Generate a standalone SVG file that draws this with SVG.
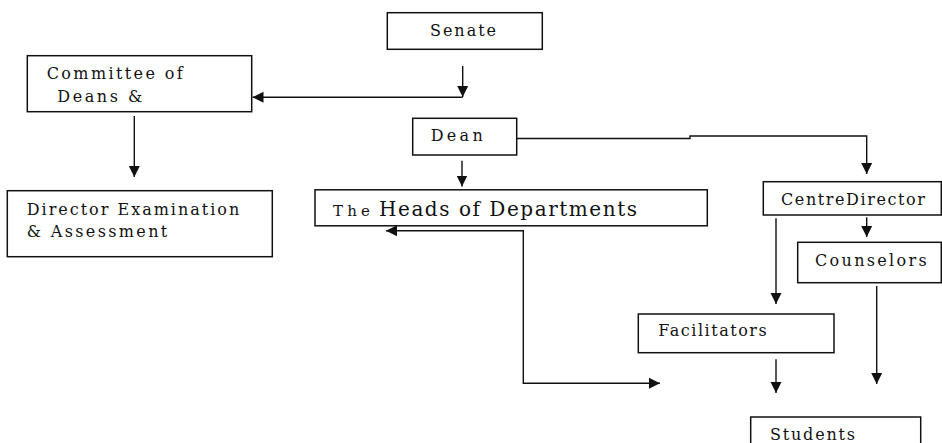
<svg xmlns="http://www.w3.org/2000/svg" width="942" height="443" viewBox="0 0 942 443">
<style>
  .box { fill: #fff; stroke: #111; stroke-width: 1.5; }
  .lbl { font-family: "DejaVu Serif", "Liberation Serif", serif; fill: #111; }
  .conn { fill: none; stroke: #111; stroke-width: 1.4; }
</style>
<defs>
  <marker id="arr" viewBox="0 0 10 10" refX="10" refY="5" markerWidth="11" markerHeight="12" markerUnits="userSpaceOnUse" orient="auto-start-reverse">
    <path d="M0,0 L10,5 L0,10 z" fill="#111"/>
  </marker>
</defs>
<rect width="942" height="443" fill="#fff"/>
<g id="connectors">
  <path class="conn" d="M462.7 66 V97" marker-end="url(#arr)"/>
  <path class="conn" d="M462.7 97.3 H252.5" marker-end="url(#arr)"/>
  <path class="conn" d="M134.3 116 V177" marker-end="url(#arr)"/>
  <path class="conn" d="M462 160.7 V186.5" marker-end="url(#arr)"/>
  <path class="conn" d="M517 138.5 H690 V136 H866.7 V174" marker-end="url(#arr)"/>
  <path class="conn" d="M866.7 217.3 V237" marker-end="url(#arr)"/>
  <path class="conn" d="M776 218.3 V304" marker-end="url(#arr)"/>
  <path class="conn" d="M386 230.7 H523.3 V383.3 H660" marker-start="url(#arr)" marker-end="url(#arr)"/>
  <path class="conn" d="M776 359.3 V393" marker-end="url(#arr)"/>
  <path class="conn" d="M876.7 286 V384" marker-end="url(#arr)"/>
</g>
<g id="senate">
  <rect class="box" x="387.3" y="12.7" width="155" height="36.6"/>
  <text class="lbl" x="430" y="36" font-size="16" textLength="66" lengthAdjust="spacing">Senate</text>
</g>
<g id="committee">
  <rect class="box" x="27.3" y="55.7" width="224.4" height="56"/>
  <text class="lbl" x="46.7" y="79.3" font-size="16" textLength="136" lengthAdjust="spacing">Committee of</text>
  <text class="lbl" x="57.3" y="101.7" font-size="16" textLength="85" lengthAdjust="spacing">Deans &amp;</text>
</g>
<g id="dean">
  <rect class="box" x="412.7" y="118.3" width="104" height="36.7"/>
  <text class="lbl" x="430.7" y="141" font-size="16" textLength="52" lengthAdjust="spacing">Dean</text>
</g>
<g id="director-exam">
  <rect class="box" x="7.3" y="190.7" width="265" height="66"/>
  <text class="lbl" x="26.7" y="215" font-size="16" textLength="212.6" lengthAdjust="spacing">Director Examination</text>
  <text class="lbl" x="26.7" y="237.3" font-size="16" textLength="140.6" lengthAdjust="spacing">&amp; Assessment</text>
</g>
<g id="heads">
  <rect class="box" x="315" y="189.8" width="392.3" height="36"/>
  <text class="lbl" y="216"><tspan x="333" font-size="15" textLength="37" lengthAdjust="spacing">The</tspan><tspan x="379" font-size="20" textLength="258" lengthAdjust="spacing">Heads of Departments</tspan></text>
</g>
<g id="centre-director">
  <rect class="box" x="763.3" y="181.7" width="178" height="33.3"/>
  <text class="lbl" x="781" y="205" font-size="16" textLength="144" lengthAdjust="spacing">CentreDirector</text>
</g>
<g id="counselors">
  <rect class="box" x="797.7" y="242.3" width="143.6" height="40.4"/>
  <text class="lbl" x="815" y="265.7" font-size="16" textLength="111.7" lengthAdjust="spacing">Counselors</text>
</g>
<g id="facilitators">
  <rect class="box" x="638.3" y="314" width="195.7" height="38.7"/>
  <text class="lbl" x="658.3" y="336" font-size="16" textLength="108.4" lengthAdjust="spacing">Facilitators</text>
</g>
<g id="students">
  <rect class="box" x="750.7" y="417" width="170" height="32"/>
  <text class="lbl" x="770" y="439.5" font-size="16" textLength="85" lengthAdjust="spacing">Students</text>
</g>
</svg>
